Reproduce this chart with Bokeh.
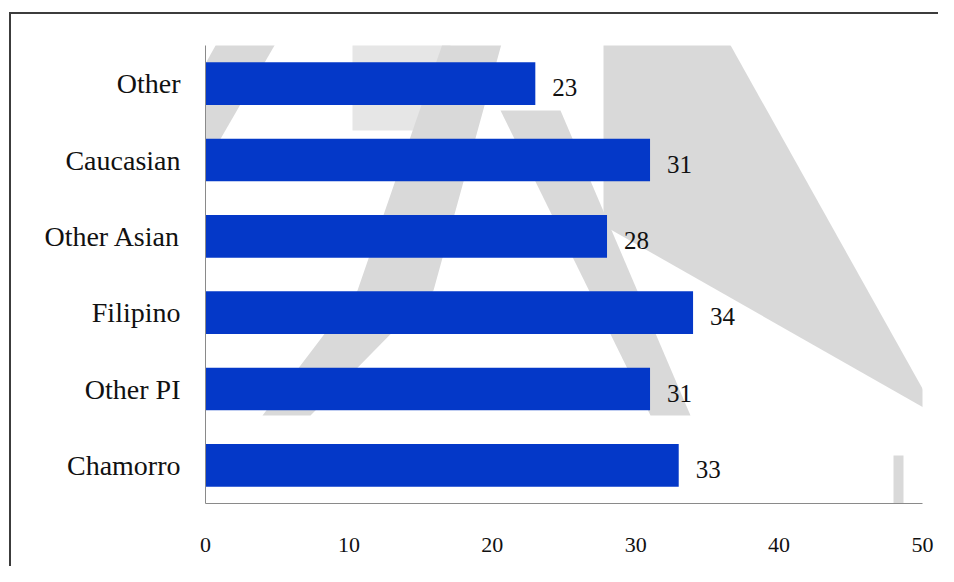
from bokeh.plotting import figure
from bokeh.models import ColumnDataSource, FactorRange, Range1d, FixedTicker, PolyAnnotation
from bokeh.core.properties import value
from bokeh.embed import file_html
from bokeh.resources import INLINE

# ---- data ----
categories = ["Chamorro", "Other PI", "Filipino", "Other Asian", "Caucasian", "Other"]
values = [33, 31, 34, 28, 31, 23]
x_ticks = [0, 10, 20, 30, 40, 50]

src = ColumnDataSource(dict(cat=categories, val=values, label=[str(v) for v in values]))

FONT = "Liberation Serif"
FRAME_L, FRAME_B = 205, 503

p = figure(width=938, height=566,
           y_range=FactorRange(*categories, range_padding=0),
           x_range=Range1d(0, 50),
           output_backend="svg", toolbar_location=None,
           min_border_left=205, min_border_right=16,
           min_border_top=45, min_border_bottom=63)
p.background_fill_color = None
p.border_fill_color = None
p.outline_line_color = None
p.xgrid.visible = False
p.ygrid.visible = False

# thin dark frame lines at top and left of the picture (CSS on the figure element)
p.styles = {
    "background-color": "white",
    "background-image": "linear-gradient(#3c3c3c,#3c3c3c), linear-gradient(#3c3c3c,#3c3c3c)",
    "background-repeat": "no-repeat",
    "background-position": "10px 12px, 9px 12px",
    "background-size": "100% 2px, 2px 100%",
}

# ---- faint watermark shapes (decoration), frame-relative screen px ----
def wm(poly, color):
    p.add_layout(PolyAnnotation(xs=[a - FRAME_L for a, b in poly],
                                ys=[FRAME_B - b for a, b in poly],
                                xs_units="screen", ys_units="screen",
                                fill_color=color, fill_alpha=1.0, line_color=None,
                                level="underlay"))

wm([(352, 0), (450, 0), (450, 130), (352, 130)], "#e6e6e6")
wm([(240, 0), (300, 0), (60, 415), (10, 415)], "#d9d9d9")
wm([(457, 0), (513, 0), (433, 290), (310, 415), (262, 415), (357, 290)], "#d9d9d9")
wm([(500, 110), (560, 110), (690, 415), (650, 415)], "#d9d9d9")
wm([(603, 0), (705, 0), (937, 415), (603, 225)], "#d9d9d9")
wm([(893, 455), (903, 455), (903, 560), (893, 560)], "#d9d9d9")

# ---- bars ----
p.hbar(y="cat", left=0, right="val", height=0.56, source=src,
       fill_color="#0438C8", line_color=None)

p.text(x="val", y="cat", text="label", source=src,
       x_offset=17, y_offset=4, text_baseline="middle", text_align="left",
       text_font=value(FONT), text_font_size="25px", text_color="#111111")

# ---- axes ----
xa = p.xaxis[0]
xa.ticker = FixedTicker(ticks=x_ticks)
xa.major_tick_line_color = None
xa.minor_tick_line_color = None
xa.major_tick_out = 0
xa.major_label_standoff = 34
xa.axis_line_color = "#8a8a8a"
xa.major_label_text_font = FONT
xa.major_label_text_font_size = "22px"
xa.major_label_text_color = "#111111"

ya = p.yaxis[0]
ya.major_tick_line_color = None
ya.minor_tick_line_color = None
ya.major_tick_out = 0
ya.major_label_standoff = 25
ya.axis_line_color = "#8a8a8a"
ya.major_label_text_font = FONT
ya.major_label_text_font_size = "28px"
ya.major_label_text_color = "#111111"

open("out.html", "w").write(file_html(p, INLINE))
